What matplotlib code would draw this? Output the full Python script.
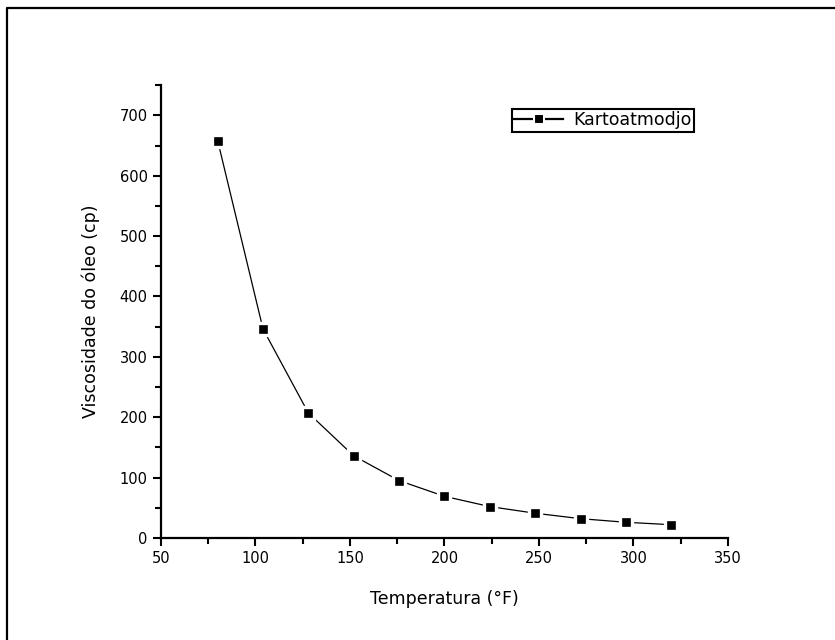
import matplotlib
matplotlib.use('Agg')
import matplotlib.pyplot as plt
from matplotlib.lines import Line2D
from matplotlib.ticker import MultipleLocator

temperatura = [80, 104, 128, 152, 176, 200, 224, 248, 272, 296, 320]
viscosidade = [658, 346, 207, 136, 95, 69, 52, 41, 32, 26, 22]

plt.rcParams['font.family'] = ['DejaVu Sans']

fig = plt.figure(figsize=(8.35, 6.4), dpi=100)
ax = fig.add_axes([0.1928, 0.1594, 0.679, 0.7076])

ax.plot(temperatura, viscosidade, color='black', lw=0.9, marker='s', markersize=8,
        markerfacecolor='black', markeredgecolor='white', markeredgewidth=2.4,
        label='Kartoatmodjo')

ax.set_xlim(50, 350)
ax.set_ylim(0, 750)
ax.xaxis.set_major_locator(MultipleLocator(50))
ax.xaxis.set_minor_locator(MultipleLocator(25))
ax.yaxis.set_major_locator(MultipleLocator(100))
ax.yaxis.set_minor_locator(MultipleLocator(50))
ax.set_yticks(range(0, 701, 100))

for s in ['top', 'right']:
    ax.spines[s].set_visible(False)
for s in ['left', 'bottom']:
    ax.spines[s].set_linewidth(1.6)
ax.tick_params(which='major', direction='out', length=6, width=1.5, labelsize=10.5)
ax.tick_params(which='minor', direction='out', length=4, width=1.5)

ax.set_xlabel('Temperatura (°F)', fontsize=12.5, labelpad=17)
ax.set_ylabel('Viscosidade do óleo (cp)', fontsize=12.5, labelpad=14)

leg = ax.legend(loc='upper left', bbox_to_anchor=(0.613, 0.830), bbox_transform=fig.transFigure,
                borderaxespad=0, fancybox=False, edgecolor='black', framealpha=1,
                fontsize=12.5, handlelength=2.8, borderpad=0.15, handletextpad=0.6)
leg.get_frame().set_linewidth(1.5)
for h in leg.legend_handles:
    h.set_linewidth(1.6)
    h.set_markeredgewidth(1.5)
    h.set_markersize(7)

# outer frame of the graph page
fx = 7 / 835
fy = 1 - 8 / 640
fig.add_artist(Line2D([fx, fx, 1.0], [0.0, fy, fy], color='black', lw=1.6,
                      transform=fig.transFigure))

fig.savefig('out.png', dpi=100)
